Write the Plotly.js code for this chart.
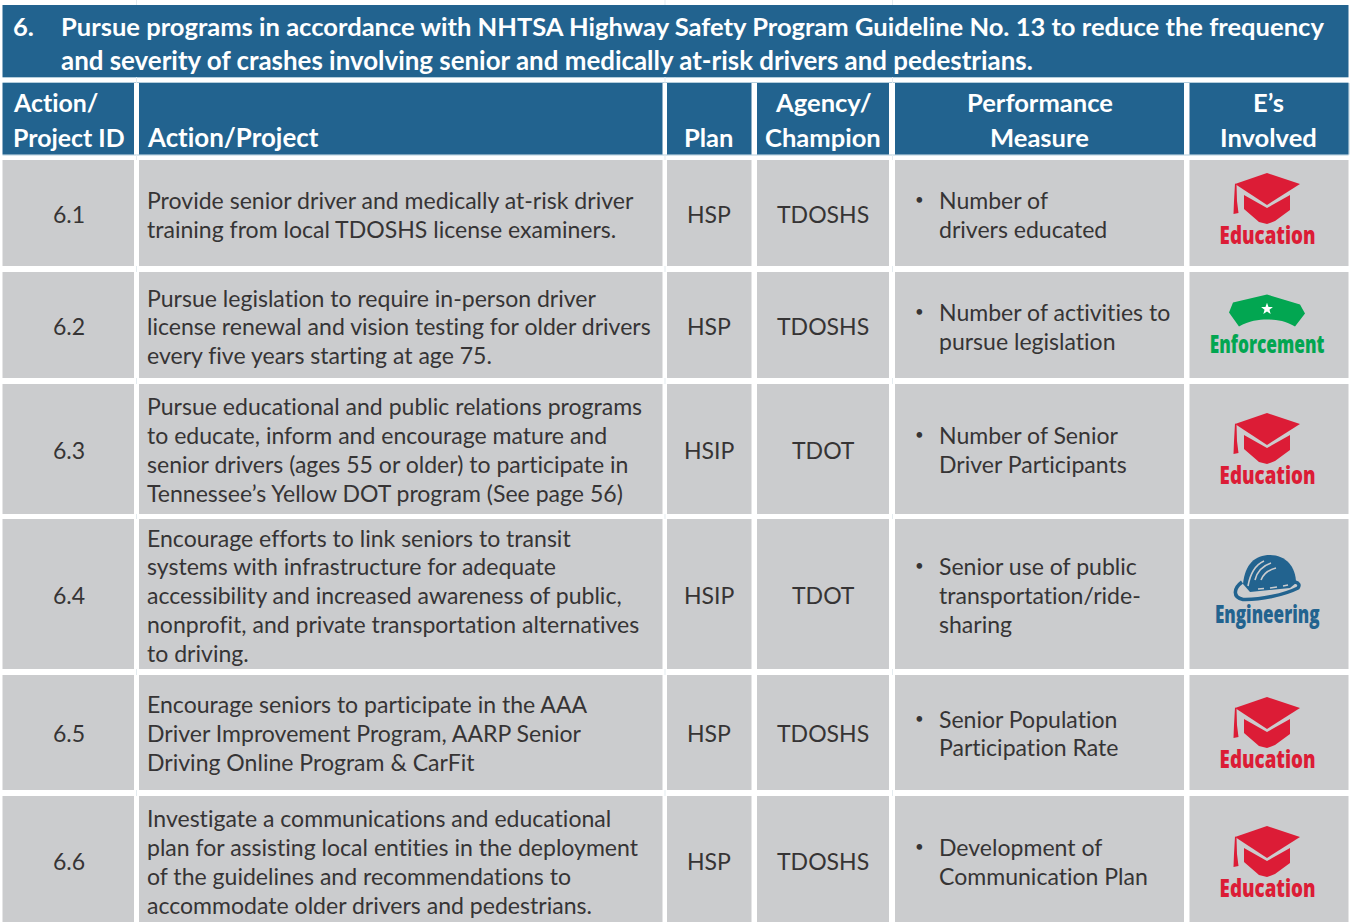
<!DOCTYPE html>
<html><head><meta charset="utf-8">
<script src="https://cdn.plot.ly/plotly-3.0.1.min.js"></script>
<style>html,body{margin:0;padding:0;background:#fff}#c{width:1351px;height:922px}
svg text{font-variant-ligatures:none;font-feature-settings:"liga" 0,"clig" 0}</style>
</head><body><div id="c"></div>
<script>
// ---- content ----
const sectionNumber = "6.";
const sectionTitle = ["Pursue programs in accordance with NHTSA Highway Safety Program Guideline No. 13 to reduce the frequency",
  "and severity of crashes involving senior and medically at-risk drivers and pedestrians."];
const headerLines = [["Action/","Project ID"],["Action/Project"],["Plan"],["Agency/","Champion"],["Performance","Measure"],["E\u2019s","Involved"]];
const ids = ["6.1","6.2","6.3","6.4","6.5","6.6"];
const actions = [
 ["Provide senior driver and medically at-risk driver","training from local TDOSHS license examiners."],
 ["Pursue legislation to require in-person driver","license renewal and vision testing for older drivers","every five years starting at age 75."],
 ["Pursue educational and public relations programs","to educate, inform and encourage mature and","senior drivers (ages 55 or older) to participate in","Tennessee\u2019s Yellow DOT program (See page 56)"],
 ["Encourage efforts to link seniors to transit","systems with infrastructure for adequate","accessibility and increased awareness of public,","nonprofit, and private transportation alternatives","to driving."],
 ["Encourage seniors to participate in the AAA","Driver Improvement Program, AARP Senior","Driving Online Program & CarFit"],
 ["Investigate a communications and educational","plan for assisting local entities in the deployment","of the guidelines and recommendations to","accommodate older drivers and pedestrians."]
];
const plans = ["HSP","HSP","HSIP","HSIP","HSP","HSP"];
const agencies = ["TDOSHS","TDOSHS","TDOT","TDOT","TDOSHS","TDOSHS"];
const measures = [
 ["Number of","drivers educated"],
 ["Number of activities to","pursue legislation"],
 ["Number of Senior","Driver Participants"],
 ["Senior use of public","transportation/ride-","sharing"],
 ["Senior Population","Participation Rate"],
 ["Development of","Communication Plan"]
];
const es = ["Education","Enforcement","Education","Engineering","Education","Education"];

// ---- layout grid (pixel scale of the axes) ----
const colL = [2.5,139,667,757,895,1189.5];
const colR = [134,662.5,751.5,889,1184,1348.5];
const rowT = [160,272,384,519,675,796];
const rowB = [266,378,514,669,790,922];
const rowMid = [214.4,326.4,449.5,595.3,733,861.4];
const eLabelY = [235,344,475,614,759,888];
const eLabelW = {Education:96,Enforcement:115,Engineering:105};
const LH = 28.9;
const BLUE='#22638f', GREY='#cbccce', INK='#363435', WHITE='#ffffff', PALE='#b4cddc', FAINT='#e4ebef';
const eColor={Education:'#dc1c36',Enforcement:'#02a651',Engineering:'#22638f'};
const FONT='Lato, sans-serif';
const BODY=23.05, HEAD=25.55;
const titleSize=[25.55,25.9];

const shapes=[], ann=[];
function rect(x0,y0,x1,y1,c){shapes.push({type:'rect',xref:'x',yref:'y',x0,y0,x1,y1,fillcolor:c,line:{width:0},layer:'below'});}
function txt(x,y,t,o={}){ann.push({xref:'x',yref:'y',x,y,text:t,showarrow:false,xanchor:o.a||'left',yanchor:'middle',
  font:{family:o.f||FONT,size:o.s||BODY,color:o.c||INK,weight:o.w||400},borderpad:0,borderwidth:0});}
function path(d,c){shapes.push({type:'path',xref:'x',yref:'y',path:d,fillcolor:c,line:{width:0},layer:'above'});}
function P(pts,ox,oy){return 'M'+pts.map(p=>(p[0]+ox)+','+(p[1]+oy)).join(' L')+' Z';}

// faint rules showing through the white gutters
const HT=83,HB=154.5;
rect(2.5,77,1348.5,78,PALE);
rect(2.5,82,1348.5,83,PALE);
rect(2.5,154.5,1348.5,155.5,PALE);
[136,664.5,892].forEach(x=>{
  [[0,5],[77,83],[154.5,160],[266,272],[378,384],[514,519],[669,675],[790,796]].forEach(s=>rect(x,s[0],x+1,s[1],FAINT));
});
rect(1348.5,83,1349.5,154.5,PALE);

// title band
rect(2.5,5,1348.5,77,BLUE);
txt(12.5,26,sectionNumber,{c:WHITE,w:700,s:HEAD});
sectionTitle.forEach((l,i)=>txt(60.5,26+i*33.5,l,{c:WHITE,w:700,s:titleSize[i]}));

// header row
colL.forEach((x,i)=>rect(x,HT,colR[i],HB,BLUE));
const hcx=[null,null,709,823,1039.5,1268.5];
headerLines.forEach((ls,i)=>{
  const n=ls.length;
  ls.forEach((l,j)=>{
    const y=137.2-(n-1-j)*35;
    if(i===0) txt(12.5,y,l,{c:WHITE,w:700,s:24.9});
    else if(i===1) txt(147,y,l,{c:WHITE,w:700,s:25.9});
    else txt(hcx[i],y,l,{c:WHITE,w:700,s:HEAD,a:'center'});
  });
});

// icons (glyph outlines, placed relative to their label)
function cap(cx,ty){
  const c=eColor.Education, y=ty-62;
  path(P([[0,0],[33,11],[0,32],[-32,11]],cx,y),c);
  path(P([[-23,22],[0,35],[23,22],[23,37],[8,48],[0,51],[-8,49],[-23,36]],cx,y),c);
  path(P([[-32,10.5],[-30.5,11.5],[-30,28],[-28.5,40],[-33.5,41],[-33,28]],cx,y),c);
}
function hat(cx,ty){
  const c=eColor.Enforcement, y=ty-49.5;
  path(`M${cx},${y} L${cx+33},${y+10} L${cx+38},${y+19} L${cx+28},${y+32} C${cx+18},${y+26} ${cx+8},${y+25} ${cx},${y+25} C${cx-8},${y+25} ${cx-18},${y+26} ${cx-28},${y+32} L${cx-38},${y+18} L${cx-34},${y+8} Z`,c);
  const s=6.2, st=[];
  for(let i=0;i<10;i++){const r=i%2?s*0.42:s,a=-Math.PI/2+i*Math.PI/5;st.push([r*Math.cos(a),r*Math.sin(a)]);}
  path(P(st,cx,y+14.5),WHITE);
}
function helmet(cx0,ty){
  const c=eColor.Engineering, cx=cx0+3, cy=ty-59;
  const X=v=>cx+v, Y=v=>cy+v;
  shapes.push({type:'path',xref:'x',yref:'y',layer:'above',line:{width:3.5,color:c},fillcolor:GREY,
   path:`M${X(-28)},${Y(27)} C${X(-36)},${Y(33)} ${X(-38)},${Y(42)} ${X(-27)},${Y(44.5)} C${X(-10)},${Y(45)} ${X(14)},${Y(40)} ${X(28)},${Y(33)} C${X(30)},${Y(30)} ${X(29)},${Y(28)} ${X(25)},${Y(27)}`});
  path(`M${X(-27)},${Y(29)} C${X(-25)},${Y(9)} ${X(-15)},${Y(0)} ${X(0)},${Y(0)} C${X(16)},${Y(0)} ${X(26)},${Y(12)} ${X(26)},${Y(28)} L${X(20)},${Y(33)} L${X(-20)},${Y(37)} Z`,c);
  [`M${X(-22)},${Y(31)} C${X(-20)},${Y(20)} ${X(-15)},${Y(10)} ${X(-6)},${Y(6)}`,
   `M${X(-15)},${Y(25)} C${X(-13)},${Y(17)} ${X(-8)},${Y(11)} ${X(1)},${Y(8)}`,
   `M${X(-9)},${Y(25)} C${X(-7)},${Y(19)} ${X(-2)},${Y(15)} ${X(6)},${Y(13)}`,
   `M${X(-12)},${Y(34)} L${X(-6)},${Y(33.5)} M${X(0)},${Y(33)} L${X(7)},${Y(32)} M${X(13)},${Y(31)} L${X(18)},${Y(30)}`].forEach(d=>
   shapes.push({type:'path',xref:'x',yref:'y',layer:'above',line:{width:1.6,color:GREY},path:d}));
}

ids.forEach((id,r)=>{
  const t=rowT[r],b=rowB[r],m=rowMid[r];
  colL.forEach((x,i)=>rect(x,t,colR[i],b,GREY));
  txt(69,m,id,{a:'center'});
  const al=actions[r];
  al.forEach((l,j)=>txt(147,m+(j-(al.length-1)/2)*LH,l));
  txt(709,m,plans[r],{a:'center'});
  txt(823,m,agencies[r],{a:'center'});
  const ml=measures[r];
  ml.forEach((l,j)=>txt(938.5,m+(j-(ml.length-1)/2)*LH,l));
  txt(919,m-(ml.length-1)/2*LH-1,"\u2022",{s:15,a:'center'});
  const e=es[r], cx=1267, ty=eLabelY[r];
  if(e==='Education') cap(cx,ty);
  if(e==='Enforcement') hat(cx,ty);
  if(e==='Engineering') helmet(cx,ty);
  txt(cx,ty,e,{a:'center',c:eColor[e],w:800,s:19,f:'"Open Sans", sans-serif'});
});

const data=[{type:'scatter',x:[0,1351],y:[0,922],mode:'markers',marker:{opacity:0},hoverinfo:'skip',showlegend:false}];
const layout={width:1351,height:922,margin:{l:0,r:0,t:0,b:0},paper_bgcolor:WHITE,plot_bgcolor:WHITE,showlegend:false,
  xaxis:{range:[0,1351],visible:false,fixedrange:true},yaxis:{range:[922,0],visible:false,fixedrange:true},shapes,annotations:ann};
Plotly.newPlot('c',data,layout,{displayModeBar:false,staticPlot:true}).then(()=>{
  // condensed, tall icon captions: scale the real text to the label's box
  document.querySelectorAll('.annotation-text').forEach(n=>{
    const w=eLabelW[n.textContent];
    if(w){
      const b=n.getBBox(), bx=b.x+b.width/2, by=b.y+b.height/2;
      n.setAttribute('transform',`translate(${bx},${by}) scale(${w/b.width},${25/19}) translate(${-bx},${-by})`);
    }
  });
});
</script></body></html>
